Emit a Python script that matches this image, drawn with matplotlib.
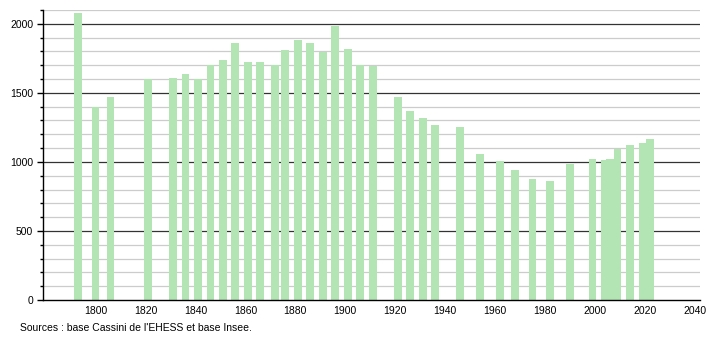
import matplotlib
matplotlib.use("Agg")
import matplotlib.pyplot as plt
from matplotlib.ticker import MultipleLocator

years = [1793, 1800, 1806, 1821, 1831, 1836, 1841, 1846, 1851, 1856,
         1861, 1866, 1872, 1876, 1881, 1886, 1891, 1896, 1901, 1906,
         1911, 1921, 1926, 1931, 1936, 1946, 1954, 1962, 1968, 1975,
         1982, 1990, 1999, 2004, 2006, 2009, 2014, 2019, 2022]
population = [2077, 1396, 1471, 1601, 1609, 1638, 1601, 1703, 1741, 1860,
              1720, 1720, 1703, 1812, 1881, 1862, 1797, 1986, 1819, 1705,
              1691, 1471, 1370, 1319, 1268, 1251, 1060, 1007, 942, 877,
              862, 988, 1018, 1013, 1020, 1091, 1123, 1140, 1167]
x_ticks = list(range(1800, 2041, 20))
y_major = [0, 500, 1000, 1500, 2000]
source_text = "Sources : base Cassini de l'EHESS et base Insee."

plt.rcParams['font.family'] = ['Liberation Sans', 'DejaVu Sans']

fig = plt.figure(figsize=(7.1, 3.4), dpi=100)
ax = fig.add_axes([43/710, 40/340, (700-43)/710, 290/340])

ax.set_xlim(1779, 2042)
ax.set_ylim(0, 2100)

# grid lines
for v in range(100, 2101, 100):
    if v % 500 == 0:
        ax.axhline(v, color='#333333', lw=0.9, zorder=1)
    else:
        ax.axhline(v, color='#cccccc', lw=0.9, zorder=1)

ax.bar(years, population, width=3.1, color='#b3e4b3', zorder=2, linewidth=0)

for s in ['top', 'right']:
    ax.spines[s].set_visible(False)
ax.spines['left'].set_color('black')
ax.spines['bottom'].set_color('black')
ax.spines['left'].set_linewidth(1.0)
ax.spines['bottom'].set_linewidth(1.0)

ax.set_xticks(x_ticks)
ax.set_xticklabels([str(t) for t in x_ticks], fontsize=7.5)
ax.tick_params(axis='x', length=0, pad=4)
ax.set_yticks(y_major)
ax.set_yticklabels([str(t) for t in y_major], fontsize=7.5)
ax.yaxis.set_minor_locator(MultipleLocator(100))
ax.tick_params(axis='y', which='major', length=4, width=1, pad=3)
ax.tick_params(axis='y', which='minor', length=2, width=1)

fig.text(20/710, 1 - 331/340, source_text, fontsize=7.5, ha='left', va='baseline')

fig.savefig("out.png", dpi=100)
